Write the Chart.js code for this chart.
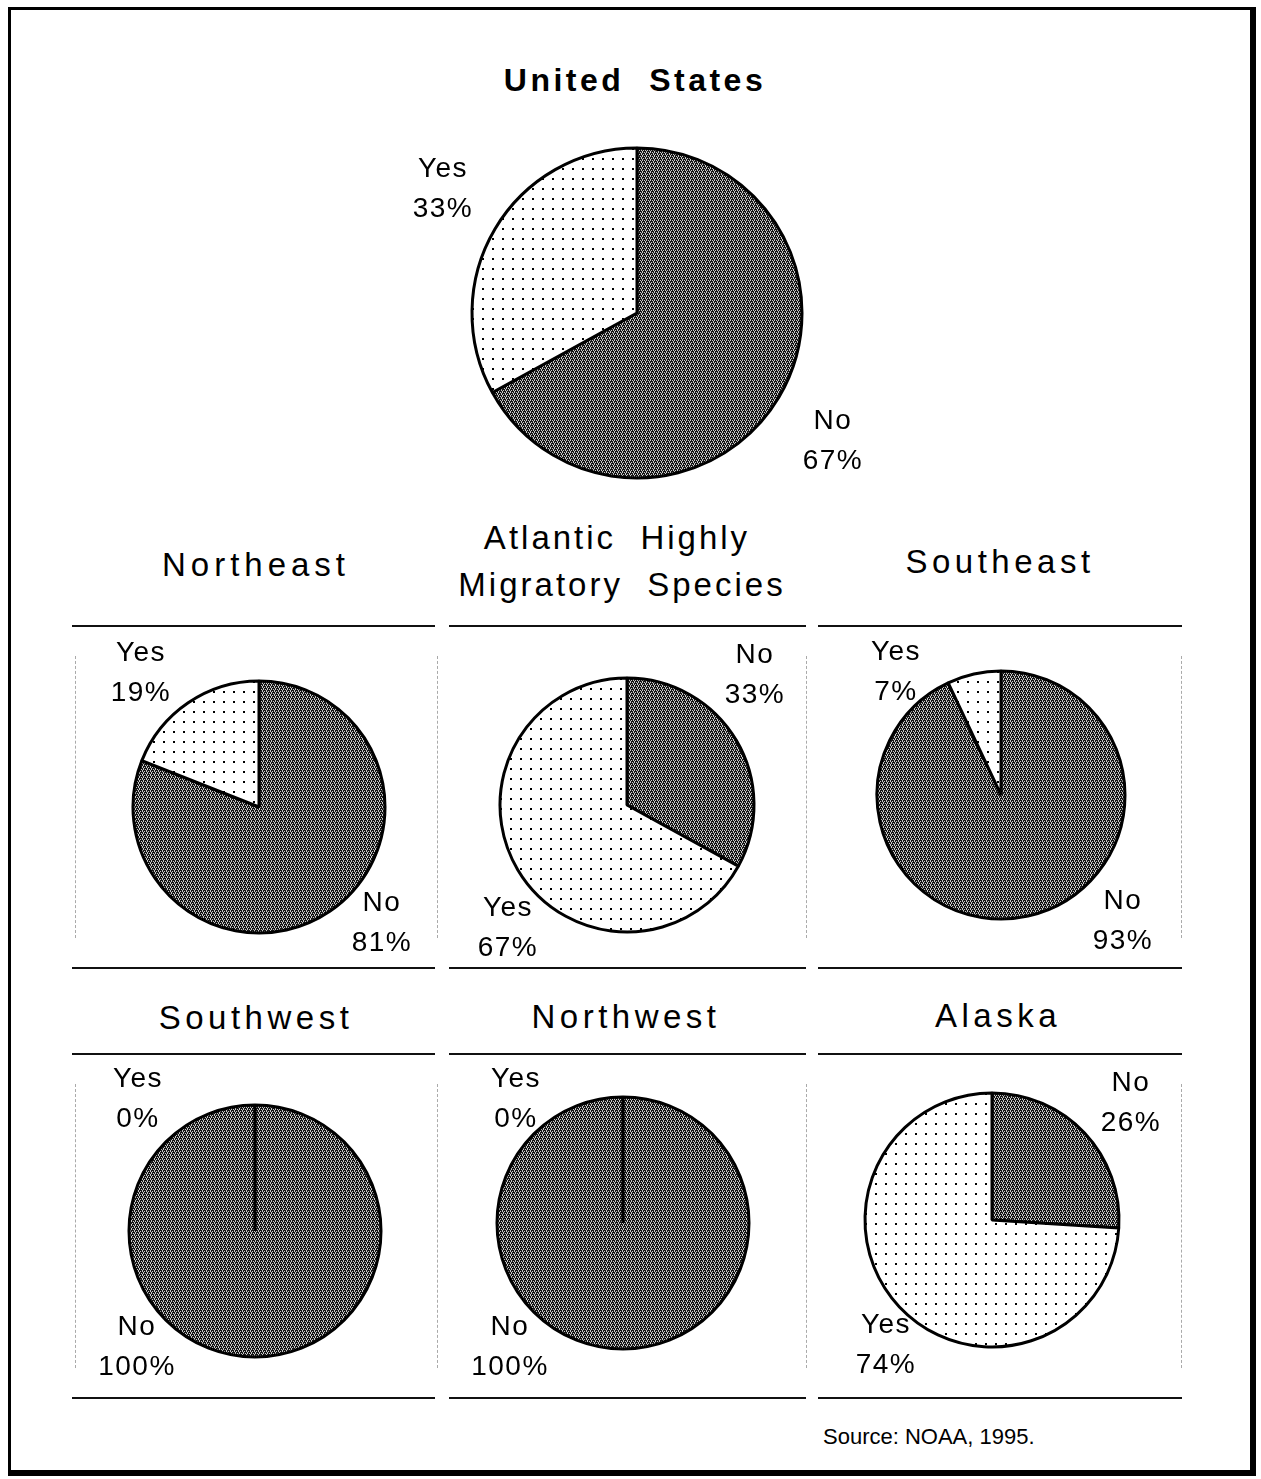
<!DOCTYPE html>
<html>
<head>
<meta charset="utf-8">
<script src="https://cdn.jsdelivr.net/npm/chart.js@4/dist/chart.umd.min.js"></script>
<style>
  body { margin: 0; background: #fff; width: 1261px; height: 1479px; position: relative; overflow: hidden;
         font-family: "Liberation Sans", Arial, Helvetica, sans-serif; color: #000; }
  .frame { position: absolute; left: 8px; top: 7px; width: 1239px; height: 1460px;
           border-top: 3px solid #000; border-left: 3px solid #000; border-right: 6px solid #000; border-bottom: 6px solid #000; }
  .box { position: absolute; }
  .titulo { position: absolute; transform: translate(-50%, -50%); white-space: nowrap; font-size: 33px; letter-spacing: 4px; }
  .rotulo { position: absolute; transform: translateX(-50%); text-align: center; font-size: 28px; line-height: 40px; letter-spacing: 1.5px; white-space: nowrap; }
  .linha { position: absolute; height: 2px; background: #111; }
  .vert { position: absolute; width: 0; border-left: 1px dashed #aaa; }
  .fonte { position: absolute; left: 823px; top: 1424px; font-size: 22px; white-space: nowrap; }
</style>
</head>
<body>
<div class="frame"></div>
<div class="fonte">Source: NOAA, 1995.</div>

<script>
// Dados
const regioes = ['United States', 'Northeast', 'Atlantic Highly Migratory Species', 'Southeast', 'Southwest', 'Northwest', 'Alaska'];
const categorias = ['No', 'Yes'];
const valoresNo  = [67, 81, 33, 93, 100, 100, 26];
const valoresYes = [33, 19, 67, 7, 0, 0, 74];

// Layout (centro, raio)
const pies = [
  { cx: 637, cy: 313, r: 165 },
  { cx: 259, cy: 807, r: 126 },
  { cx: 627, cy: 805, r: 127 },
  { cx: 1001, cy: 795, r: 124 },
  { cx: 255, cy: 1231, r: 126 },
  { cx: 623, cy: 1223, r: 126 },
  { cx: 992, cy: 1220, r: 127 }
];

// Titulos: [texto, x, y, espacamento, negrito]
const titulos = [
  ['United\u00a0\u00a0States', 635, 80, 3.5, true],
  ['Northeast', 256, 565, 5],
  ['Atlantic\u00a0\u00a0Highly', 617, 538, 3],
  ['Migratory\u00a0\u00a0Species', 622, 585, 3],
  ['Southeast', 1000, 562, 4.5],
  ['Southwest', 256, 1018, 4.5],
  ['Northwest', 626, 1017, 4.5],
  ['Alaska', 998, 1016, 4.5]
];

// Posicao dos rotulos [No, Yes] por regiao: x centro, y topo
const posRotulos = [
  [[833, 400], [443, 148]],
  [[382, 882], [141, 632]],
  [[755, 634], [508, 887]],
  [[1123, 880], [896, 631]],
  [[137, 1306], [138, 1058]],
  [[510, 1306], [516, 1058]],
  [[1131, 1062], [886, 1304]]
];

titulos.forEach(t => {
  const d = document.createElement('div');
  d.className = 'titulo';
  d.textContent = t[0];
  d.style.left = t[1] + 'px';
  d.style.top = t[2] + 'px';
  d.style.letterSpacing = t[3] + 'px';
  if (t[4]) { d.style.fontWeight = 'bold'; d.style.fontSize = '32px'; }
  document.body.appendChild(d);
});

// Linhas das caixas
[[626, 968], [1054, 1398]].forEach(([y1, y2]) => {
  [[72, 435], [449, 806], [818, 1182]].forEach(([x1, x2]) => {
    [y1, y2].forEach(y => {
      const l = document.createElement('div');
      l.className = 'linha';
      l.style.left = x1 + 'px'; l.style.top = (y - 1) + 'px'; l.style.width = (x2 - x1) + 'px';
      document.body.appendChild(l);
    });
  });
  [75, 437, 806, 1181].forEach(x => {
    const v = document.createElement('div');
    v.className = 'vert';
    v.style.left = x + 'px'; v.style.top = (y1 + 30) + 'px'; v.style.height = (y2 - y1 - 60) + 'px';
    document.body.appendChild(v);
  });
});

// Padroes de preenchimento
function padraoPontos() {
  const c = document.createElement('canvas');
  c.width = 10; c.height = 10;
  const g = c.getContext('2d');
  g.fillStyle = '#fff'; g.fillRect(0, 0, 10, 10);
  g.fillStyle = '#000'; g.fillRect(4, 4, 2, 2);
  return g.createPattern(c, 'repeat');
}
function padraoEscuro() {
  const c = document.createElement('canvas');
  c.width = 4; c.height = 4;
  const g = c.getContext('2d');
  g.fillStyle = '#151515'; g.fillRect(0, 0, 4, 4);
  g.fillStyle = '#c8c8c8';
  [[0, 0], [2, 0], [1, 1], [3, 2], [1, 2], [2, 3]].forEach(p => g.fillRect(p[0], p[1], 1, 1));
  return g.createPattern(c, 'repeat');
}
const fillNo = padraoEscuro();
const fillYes = padraoPontos();

regioes.forEach((nome, i) => {
  const p = pies[i];
  const tam = 2 * p.r + 8;
  const box = document.createElement('div');
  box.className = 'box';
  box.style.left = (p.cx - tam / 2) + 'px';
  box.style.top = (p.cy - tam / 2) + 'px';
  const cv = document.createElement('canvas');
  cv.width = tam; cv.height = tam;
  cv.style.width = tam + 'px'; cv.style.height = tam + 'px';
  box.appendChild(cv);
  document.body.appendChild(box);

  new Chart(cv.getContext('2d'), {
    type: 'pie',
    data: {
      labels: categorias,
      datasets: [{
        data: [valoresNo[i], valoresYes[i]],
        backgroundColor: [fillNo, fillYes],
        borderColor: '#000',
        borderWidth: 3,
        radius: p.r,
        hoverOffset: 0
      }]
    },
    options: {
      responsive: false,
      animation: false,
      events: [],
      layout: { padding: 0 },
      plugins: { legend: { display: false }, tooltip: { enabled: false } }
    }
  });

  const vals = [valoresNo[i], valoresYes[i]];
  categorias.forEach((cat, k) => {
    const r = document.createElement('div');
    r.className = 'rotulo';
    r.innerHTML = cat + '<br>' + vals[k] + '%';
    r.style.left = posRotulos[i][k][0] + 'px';
    r.style.top = posRotulos[i][k][1] + 'px';
    document.body.appendChild(r);
  });
});
</script>
</body>
</html>
